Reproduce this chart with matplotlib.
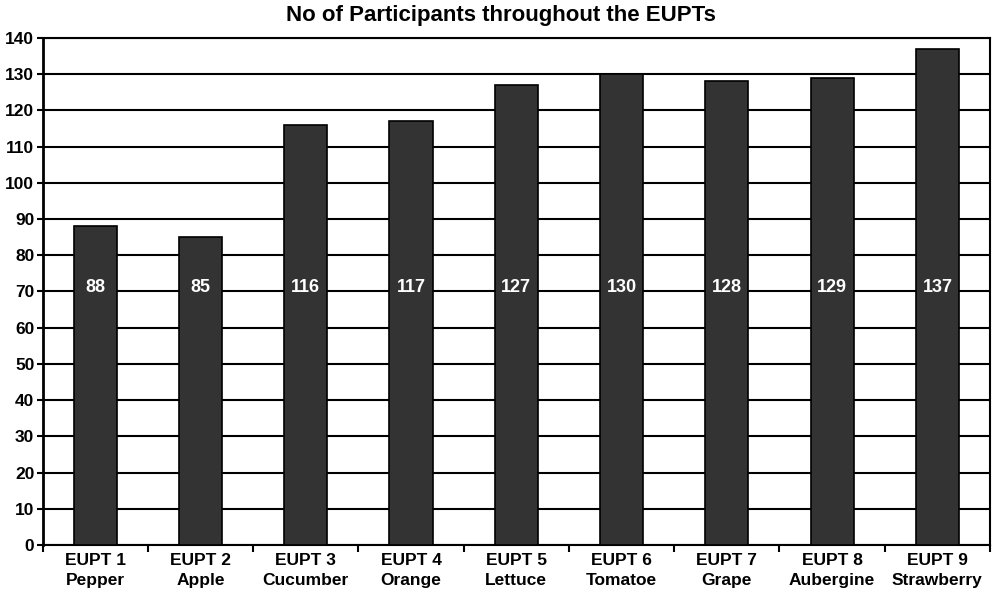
import numpy as np
import matplotlib.pyplot as plt

plt.rcParams['font.family'] = ['Liberation Sans', 'DejaVu Sans']

rounds = ["EUPT 1", "EUPT 2", "EUPT 3", "EUPT 4", "EUPT 5", "EUPT 6", "EUPT 7", "EUPT 8", "EUPT 9"]
products = ["Pepper", "Apple", "Cucumber", "Orange", "Lettuce", "Tomatoe", "Grape", "Aubergine", "Strawberry"]
participants = [88, 85, 116, 117, 127, 130, 128, 129, 137]

fig = plt.figure(figsize=(9.92, 5.93), dpi=100)
ax = fig.add_axes([0.043, 0.081, 0.955, 0.855])

x = np.arange(len(participants))
ax.set_axisbelow(True)
ax.yaxis.grid(True, color='black', linewidth=1.5)
ax.bar(x, participants, width=0.41, color='#333333', edgecolor='black', linewidth=1.2, zorder=3)

# value labels sit at the same height inside every bar
for xi, v in zip(x, participants):
    ax.text(xi, 71, str(v), color='white', fontsize=13, fontweight='bold',
            ha='center', va='center', zorder=4)

ax.set_xlim(-0.5, len(participants) - 0.5)
ax.set_ylim(0, 140)
ax.set_yticks(np.arange(0, 141, 10))
ax.set_xticks(x)
ax.set_xticklabels([f"{r}\n{p}" for r, p in zip(rounds, products)],
                   fontsize=12.5, fontweight='bold', linespacing=1.35)
ax.set_xticks(np.arange(-0.5, len(participants), 1), minor=True)
ax.tick_params(axis='x', which='major', length=0, pad=6)
ax.tick_params(axis='x', which='minor', length=5, width=1.5, direction='out')
ax.tick_params(axis='y', length=4, width=1.5, labelsize=12.5, pad=2)
for lab in ax.get_yticklabels():
    lab.set_fontweight('bold')
for s in ax.spines.values():
    s.set_linewidth(1.5)
    s.set_color('black')
ax.spines['left'].set_linewidth(2)

fig.suptitle("No of Participants throughout the EUPTs", x=0.505, y=0.992,
             va='top', fontsize=16, fontweight='bold')

fig.savefig("out.png", dpi=100)
